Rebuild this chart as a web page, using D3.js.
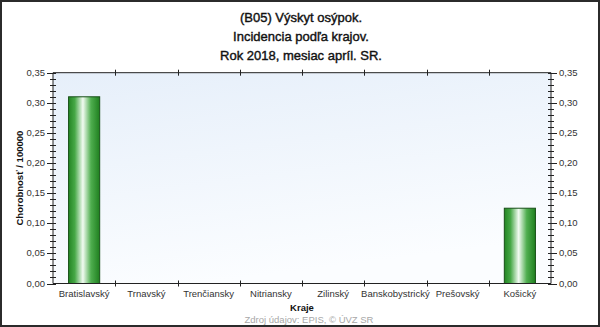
<!DOCTYPE html>
<html>
<head>
<meta charset="utf-8">
<script src="https://cdn.jsdelivr.net/npm/d3@7"></script>
<style>
  body { margin: 0; background: #fff; }
  svg { display: block; font-family: "Liberation Sans", Arial, sans-serif; }
</style>
</head>
<body>
<div id="chart"></div>
<script>
const titleLines = ["(B05) Výskyt osýpok.", "Incidencia podľa krajov.", "Rok 2018, mesiac apríl. SR."];
const regions = ["Bratislavský", "Trnavský", "Trenčiansky", "Nitriansky", "Zilinský", "Banskobystrický", "Prešovský", "Košický"];
const incidence = [0.31, 0, 0, 0, 0, 0, 0, 0.125];
const yTicks = [0, 0.05, 0.1, 0.15, 0.2, 0.25, 0.3, 0.35];

const W = 600, H = 327;
const plot = { left: 53, right: 551, top: 72.7, bottom: 283.5 };

const svg = d3.select("#chart")
  .append("svg")
  .attr("width", W)
  .attr("height", H);

const defs = svg.append("defs");

const bg = defs.append("linearGradient")
  .attr("id", "bg")
  .attr("x1", 0).attr("y1", 0).attr("x2", 0.3).attr("y2", 1);
bg.append("stop").attr("offset", "0%").attr("stop-color", "#e6effa");
bg.append("stop").attr("offset", "100%").attr("stop-color", "#fbfdff");

const barGrad = defs.append("linearGradient")
  .attr("id", "bar")
  .attr("x1", 0).attr("y1", 0).attr("x2", 1).attr("y2", 0);
[["0%", "#238523"], ["20%", "#46a846"], ["46%", "#f2fbf2"], ["72%", "#4fae4f"], ["100%", "#1f7f1f"]]
  .forEach(([o, c]) => barGrad.append("stop").attr("offset", o).attr("stop-color", c));

// okraj obrázka
svg.append("rect")
  .attr("x", 1).attr("y", 1)
  .attr("width", W - 2).attr("height", H - 2)
  .attr("fill", "#fff")
  .attr("stroke", "#2b2b2b")
  .attr("stroke-width", 2);

// titulok
svg.append("g")
  .selectAll("text")
  .data(titleLines)
  .join("text")
  .attr("x", 301)
  .attr("y", (d, i) => 22 + i * 19)
  .attr("text-anchor", "middle")
  .attr("font-size", 13)
  .attr("fill", "#111")
  .attr("stroke", "#111")
  .attr("stroke-width", 0.4)
  .text(d => d);

const x = d3.scaleBand()
  .domain(regions)
  .range([plot.left, plot.right])
  .paddingInner(0.5)
  .paddingOuter(0.25);

const xEdges = d3.scaleLinear()
  .domain([0, regions.length])
  .range([plot.left, plot.right]);

const y = d3.scaleLinear()
  .domain([0, 0.35])
  .range([plot.bottom, plot.top]);

svg.append("rect")
  .attr("x", plot.left)
  .attr("y", plot.top)
  .attr("width", plot.right - plot.left)
  .attr("height", plot.bottom - plot.top)
  .attr("fill", "url(#bg)");

// stĺpce
svg.append("g")
  .selectAll("rect")
  .data(regions.map((r, i) => ({ r, v: incidence[i] })).filter(d => d.v > 0))
  .join("rect")
  .attr("x", d => x(d.r))
  .attr("y", d => y(d.v))
  .attr("width", x.bandwidth())
  .attr("height", d => y(0) - y(d.v))
  .attr("fill", "url(#bar)")
  .attr("stroke", "#174f17")
  .attr("stroke-width", 1);

const fmt = v => d3.format(".2f")(v).replace(".", ",");
const minor = d3.range(0, 36).map(i => i / 100);

// osi Y (ľavá a pravá)
[["left", plot.left, -1], ["right", plot.right, 1]].forEach(([name, px, dir]) => {
  const g = svg.append("g").attr("class", "axis-" + name);
  g.append("line")
    .attr("x1", px).attr("x2", px)
    .attr("y1", plot.top).attr("y2", plot.bottom)
    .attr("stroke", "#222");
  g.selectAll("line.minor")
    .data(minor)
    .join("line")
    .attr("class", "minor")
    .attr("x1", px - 3).attr("x2", px + 3)
    .attr("y1", d => Math.round(y(d)) + 0.5)
    .attr("y2", d => Math.round(y(d)) + 0.5)
    .attr("stroke", "#222");
  g.selectAll("line.major")
    .data(yTicks)
    .join("line")
    .attr("class", "major")
    .attr("x1", px + dir * 6).attr("x2", px - dir * 3)
    .attr("y1", d => Math.round(y(d)) + 0.5)
    .attr("y2", d => Math.round(y(d)) + 0.5)
    .attr("stroke", "#222");
  g.selectAll("text")
    .data(yTicks)
    .join("text")
    .attr("x", px + dir * 8)
    .attr("y", d => y(d))
    .attr("dy", "0.32em")
    .attr("text-anchor", dir < 0 ? "end" : "start")
    .attr("font-size", 9.5)
    .attr("fill", "#333")
    .text(fmt);
});

// osi X (dolná a horná)
[[plot.bottom], [plot.top]].forEach(([py]) => {
  const g = svg.append("g");
  g.append("line")
    .attr("x1", plot.left).attr("x2", plot.right)
    .attr("y1", py).attr("y2", py)
    .attr("stroke", "#222");
  g.selectAll("line.tick")
    .data(d3.range(1, regions.length))
    .join("line")
    .attr("class", "tick")
    .attr("x1", d => Math.round(xEdges(d)) + 0.5)
    .attr("x2", d => Math.round(xEdges(d)) + 0.5)
    .attr("y1", py - 3).attr("y2", py + 3)
    .attr("stroke", "#222");
});

svg.append("g")
  .selectAll("text")
  .data(regions)
  .join("text")
  .attr("x", d => x(d) + x.bandwidth() / 2)
  .attr("y", plot.bottom + 13)
  .attr("text-anchor", "middle")
  .attr("font-size", 9.5)
  .attr("fill", "#333")
  .text(d => d);

svg.append("text")
  .attr("x", 302)
  .attr("y", plot.bottom + 27)
  .attr("text-anchor", "middle")
  .attr("font-size", 9.5)
  .attr("font-weight", "bold")
  .attr("fill", "#111")
  .text("Kraje");

svg.append("text")
  .attr("transform", `translate(23, ${(plot.top + plot.bottom) / 2}) rotate(-90)`)
  .attr("text-anchor", "middle")
  .attr("font-size", 9.5)
  .attr("font-weight", "bold")
  .attr("fill", "#111")
  .text("Chorobnosť / 100000");

svg.append("text")
  .attr("x", 309)
  .attr("y", plot.bottom + 39)
  .attr("text-anchor", "middle")
  .attr("font-size", 9.5)
  .attr("fill", "#a8a8a8")
  .text("Zdroj údajov: EPIS, © ÚVZ SR");
</script>
</body>
</html>
